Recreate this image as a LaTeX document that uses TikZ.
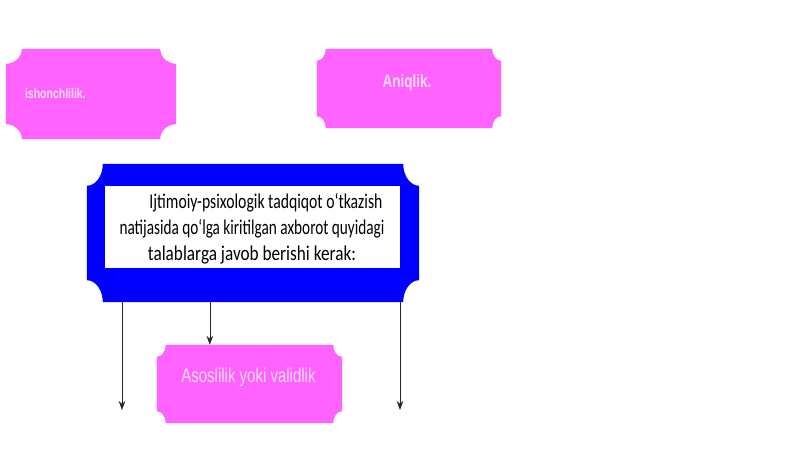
\documentclass[tikz,border=0pt]{standalone}
\usepackage{graphicx}
\usepackage{fontspec}
\setmainfont{Liberation Sans}
\newfontfamily\slidefont[FakeStretch=0.75]{Liberation Sans}
\newfontfamily\bodyfont{Carlito}
\usetikzlibrary{calc,positioning,arrows.meta}

\definecolor{plaquepink}{HTML}{FF62FF}
\definecolor{plaqueblue}{HTML}{0000FF}
\definecolor{labelpink}{HTML}{FFDDFF}

% notched box under an empty node: #1 node, #2 colour, #3 notch x, #4 notch y
\newcommand{\plaque}[4]{%
    \fill[#2] ($(#1.north west)+(#3,0pt)$) -- ($(#1.north east)+(-#3,0pt)$)
        arc[start angle=180, end angle=270, x radius=#3, y radius=#4]
        -- ($(#1.south east)+(0pt,#4)$)
        arc[start angle=90, end angle=180, x radius=#3, y radius=#4]
        -- ($(#1.south west)+(#3,0pt)$)
        arc[start angle=0, end angle=90, x radius=#3, y radius=#4]
        -- ($(#1.north west)+(0pt,-#4)$)
        arc[start angle=270, end angle=360, x radius=#3, y radius=#4]
        -- cycle;}
% one squeezed text line of a given width
\newcommand{\fitline}[2]{\resizebox{#1}{\height}{#2}}

\begin{document}
\begin{tikzpicture}[
        x=1pt, y=1pt,
        % empty frame of a box, the notched fill comes from \plaque
        frame/.style={
            rectangle,
            inner sep=0pt
        },
        % light text on the pink boxes
        pinklabel/.style={
            text=labelpink,
            inner sep=0pt
        },
        % thin black connectors
        arrow/.style={
            -{Stealth[length=9pt,width=6.5pt]},
            line width=0.6pt,
            black!85
        }
    ]

    % --- PAGE ---
    \fill[white] (0,0) rectangle (800,449);
    \useasboundingbox (0,0) rectangle (800,449);

    % --- TOP ROW ---
    \node[frame, minimum width=170, minimum height=90] (ish) at (91,355) {};
    \plaque{ish}{plaquepink}{16pt}{15pt}
    \node[pinklabel, font={\slidefont\bfseries\fontsize{14}{16}\selectfont}, anchor=west]
        (ish-text) at ($(ish.west)+(19,0)$) {ishonchlilik.};

    \node[frame, minimum width=184, minimum height=79] (aniq) at (409,360.5) {};
    \plaque{aniq}{plaquepink}{9pt}{12pt}
    \node[pinklabel, font={\slidefont\bfseries\fontsize{18}{20}\selectfont}]
        (aniq-text) at ($(aniq.center)+(-2,6)$) {Aniqlik.};

    % --- MAIN BOX ---
    \node[frame, minimum width=332, minimum height=138] (main) at (253,216) {};
    \plaque{main}{plaqueblue}{16pt}{22pt}
    \node[frame, fill=white, minimum width=295, minimum height=82] (inner) at (252.5,222) {};
    \node[align=center, inner sep=0pt, font={\bodyfont\fontsize{21}{26}\selectfont}]
        (main-text) at (252,220) {\hspace*{28pt}\fitline{233pt}{Ijtimoiy-psixologik tadqiqot o‘tkazish}\\
        \fitline{265pt}{natijasida qo‘lga kiritilgan axborot quyidagi}\\
        \fitline{208pt}{talablarga javob berishi kerak:}};

    % --- BOTTOM BOX ---
    \node[frame, minimum width=185, minimum height=78] (asos) at (249.5,65) {};
    \plaque{asos}{plaquepink}{9pt}{12pt}
    \node[pinklabel, font={\slidefont\fontsize{20}{22}\selectfont}]
        (asos-text) at ($(asos.center)+(-1,7)$) {Asoslilik yoki validlik};

    % --- CONNECTORS ---
    \coordinate (endL) at (122,39);
    \coordinate (endR) at (400,39);
    \coordinate (endM) at ($(asos.north west)+(53,0)$);
    \draw[arrow] (main.south -| endL) -- (endL);
    \draw[arrow] (main.south -| endM) -- (endM);
    \draw[arrow] (main.south -| endR) -- (endR);

\end{tikzpicture}
\end{document}
